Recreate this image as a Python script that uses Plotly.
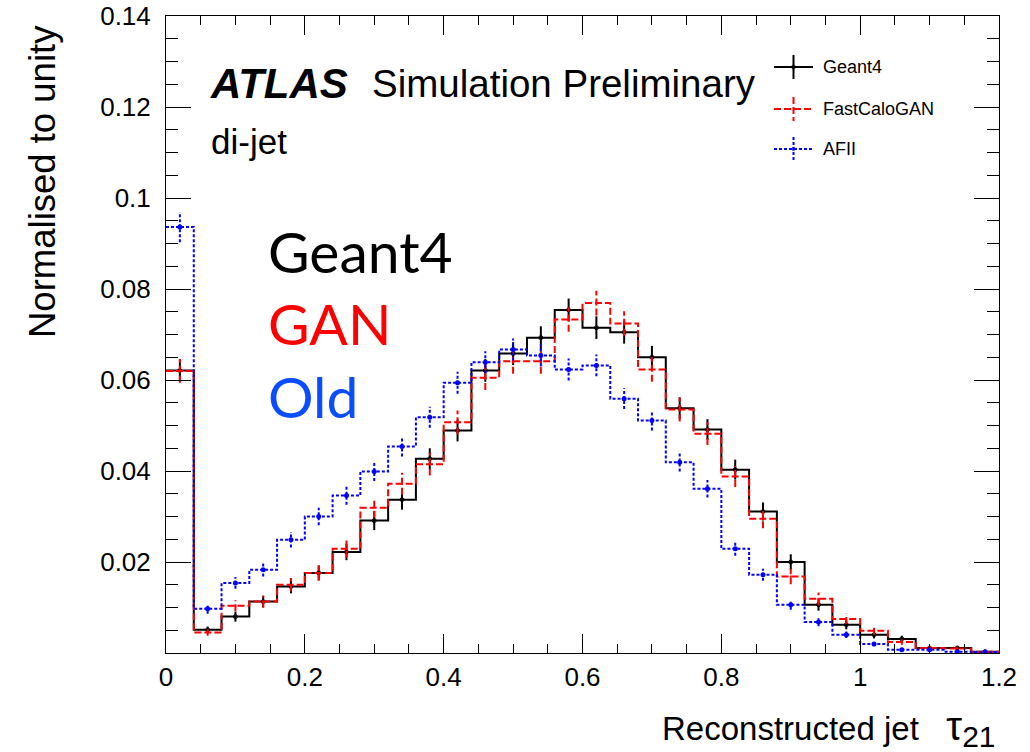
import plotly.graph_objects as go

# ---------------- data ----------------
BIN_EDGES = [round(0.04 * i, 2) for i in range(31)]
SERIES_NAMES = ["Geant4", "FastCaloGAN", "AFII"]

geant4 = [0.0621, 0.0051, 0.0080, 0.0113, 0.0146, 0.0176, 0.0222, 0.0291, 0.0337, 0.0427,
          0.0489, 0.0621, 0.0658, 0.0693, 0.0754, 0.0715, 0.0705, 0.0650, 0.0538, 0.0491,
          0.0403, 0.0311, 0.0200, 0.0106, 0.0062, 0.0040, 0.0031, 0.0011, 0.0011, 0.0003]
geant4_err = [0.0024, 0.0007, 0.0011, 0.0013, 0.0015, 0.0016, 0.0018, 0.0021, 0.0022, 0.0023,
              0.0024, 0.0025, 0.0025, 0.0025, 0.0025, 0.0025, 0.0025, 0.0025, 0.0024, 0.0023,
              0.0022, 0.0020, 0.0017, 0.0013, 0.0010, 0.0008, 0.0007, 0.0004, 0.0004, 0.0002]

fastcalogan = [0.0620, 0.0045, 0.0104, 0.0113, 0.0150, 0.0176, 0.0229, 0.0319, 0.0372, 0.0415,
               0.0507, 0.0605, 0.0641, 0.0641, 0.0733, 0.0769, 0.0724, 0.0623, 0.0535, 0.0482,
               0.0388, 0.0295, 0.0168, 0.0119, 0.0075, 0.0049, 0.0024, 0.0011, 0.0010, 0.0003]
fastcalogan_err = [0.0026, 0.0007, 0.0012, 0.0013, 0.0015, 0.0017, 0.0019, 0.0022, 0.0024, 0.0025,
                   0.0026, 0.0027, 0.0027, 0.0027, 0.0027, 0.0027, 0.0027, 0.0027, 0.0026, 0.0025,
                   0.0023, 0.0021, 0.0017, 0.0014, 0.0011, 0.0009, 0.0006, 0.0004, 0.0004, 0.0002]

afii = [0.0936, 0.0097, 0.0154, 0.0183, 0.0249, 0.0300, 0.0346, 0.0399, 0.0454, 0.0518,
        0.0594, 0.0639, 0.0667, 0.0654, 0.0623, 0.0632, 0.0559, 0.0511, 0.0419, 0.0361,
        0.0229, 0.0172, 0.0106, 0.0068, 0.0040, 0.0020, 0.0007, 0.0007, 0.0003, 0.0002]
afii_err = [0.0033, 0.0011, 0.0013, 0.0015, 0.0017, 0.0019, 0.0020, 0.0021, 0.0022, 0.0023,
            0.0024, 0.0024, 0.0024, 0.0024, 0.0024, 0.0024, 0.0023, 0.0022, 0.0020, 0.0019,
            0.0015, 0.0013, 0.0011, 0.0009, 0.0007, 0.0005, 0.0003, 0.0003, 0.0002, 0.0001]

X_TICKS = [0, 0.2, 0.4, 0.6, 0.8, 1.0, 1.2]
X_TICKTEXT = ["0", "0.2", "0.4", "0.6", "0.8", "1", "1.2"]
Y_TICKS = [0.02, 0.04, 0.06, 0.08, 0.10, 0.12, 0.14]
Y_TICKTEXT = ["0.02", "0.04", "0.06", "0.08", "0.1", "0.12", "0.14"]

# ---------------- styles ----------------
W, H = 1030, 752
L, R, T, B = 166, 31, 16, 99
PW, PH = W - L - R, H - T - B
ROOT_FONT = "Liberation Sans, Arial, Helvetica, sans-serif"

styles = [
    dict(color="black", dash="solid", marker=dict(symbol="circle-open", size=4, color="black", line=dict(width=1, color="black"))),
    dict(color="#ff0000", dash="7px,3px", marker=dict(symbol="circle", size=2, color="#ff0000")),
    dict(color="#0000ff", dash="3px,2px", marker=dict(symbol="circle", size=5, color="#0000ff")),
]
series = [(geant4, geant4_err), (fastcalogan, fastcalogan_err), (afii, afii_err)]

centers = [(BIN_EDGES[i] + BIN_EDGES[i + 1]) / 2 for i in range(len(BIN_EDGES) - 1)]

fig = go.Figure()
for name, (vals, errs), st in zip(SERIES_NAMES, series, styles):
    # step histogram
    fig.add_trace(go.Scatter(
        x=BIN_EDGES, y=list(vals) + [vals[-1]], mode="lines", line_shape="hv",
        line=dict(color=st["color"], width=2, dash=st["dash"]),
        showlegend=False, hoverinfo="skip"))
    # vertical error bars
    ex, ey = [], []
    for c, v, e in zip(centers, vals, errs):
        ex += [c, c, None]
        ey += [v - e, v + e, None]
    fig.add_trace(go.Scatter(x=ex, y=ey, mode="lines",
                             line=dict(color=st["color"], width=2, dash=st["dash"]),
                             showlegend=False, hoverinfo="skip"))
    # markers
    fig.add_trace(go.Scatter(x=centers, y=vals, mode="markers", marker=st["marker"],
                             name=name, showlegend=False))


def px(xp):
    return (xp - L) / PW


def py(yp):
    return (H - B - yp) / PH


shapes = []
annotations = []

# manual ROOT-style legend
leg_y = [67, 109, 149]
for name, st, yy in zip(SERIES_NAMES, styles, leg_y):
    shapes.append(dict(type="line", xref="paper", yref="paper", x0=px(774), x1=px(813),
                       y0=py(yy), y1=py(yy), line=dict(color=st["color"], width=2, dash=st["dash"])))
    shapes.append(dict(type="line", xref="paper", yref="paper", x0=px(793.5), x1=px(793.5),
                       y0=py(yy - 12), y1=py(yy + 12), line=dict(color=st["color"], width=2, dash=st["dash"])))
    annotations.append(dict(xref="paper", yref="paper", x=px(821), y=py(yy), xanchor="left", yanchor="middle",
                            text=name, showarrow=False, font=dict(family=ROOT_FONT, size=18, color="black")))
fig.add_trace(go.Scatter(x=[px(793.5)] * 3, y=[py(v) for v in leg_y], xaxis="x2", yaxis="y2",
                         mode="markers", marker=dict(color=[s["color"] for s in styles], size=[4, 2, 5],
                                                     symbol=["circle-open", "circle", "circle"]),
                         showlegend=False, hoverinfo="skip"))

# ATLAS label
annotations.append(dict(xref="paper", yref="paper", x=px(208), y=py(83), xanchor="left", yanchor="middle",
                        text="<b><i>ATLAS</i></b>", showarrow=False,
                        font=dict(family=ROOT_FONT, size=42, color="black")))
annotations.append(dict(xref="paper", yref="paper", x=px(370), y=py(83), xanchor="left", yanchor="middle",
                        text="Simulation Preliminary", showarrow=False,
                        font=dict(family=ROOT_FONT, size=38.5, color="black")))
annotations.append(dict(xref="paper", yref="paper", x=px(209), y=py(142), xanchor="left", yanchor="middle",
                        text="di-jet", showarrow=False,
                        font=dict(family=ROOT_FONT, size=35, color="black")))

# overlay labels
for txt, col, yc in [("Geant4", "black", 251), ("GAN", "#ff0000", 323), ("Old", "#0a4dff", 396)]:
    annotations.append(dict(xref="paper", yref="paper", x=px(266), y=py(yc), xanchor="left", yanchor="middle",
                            text=txt, showarrow=False,
                            font=dict(family="Lato, Carlito, sans-serif", size=57, color=col)))

# axis titles
annotations.append(dict(xref="paper", yref="paper", x=px(42), y=py(182), xanchor="center", yanchor="middle",
                        text="Normalised to unity", textangle=-90, showarrow=False,
                        font=dict(family=ROOT_FONT, size=36.5, color="black")))
annotations.append(dict(xref="paper", yref="paper", x=px(998), y=py(728), xanchor="right", yanchor="middle",
                        text=("Reconstructed jet\u00a0\u00a0\u00a0<span style='font-size:40px'>\u03c4</span>"
                              "<sub><span style='font-size:30px'>21</span></sub>"),
                        showarrow=False,
                        font=dict(family=ROOT_FONT, size=33, color="black")))

axis_common = dict(showgrid=False, zeroline=False, showline=True, linecolor="black", linewidth=1,
                   mirror="ticks", ticks="inside", tickcolor="black", tickwidth=1, automargin=False,
                   tickfont=dict(family=ROOT_FONT, size=26, color="black"))

fig.update_layout(
    width=W, height=H, margin=dict(l=L, r=R, t=T, b=B, autoexpand=False),
    paper_bgcolor="white", plot_bgcolor="white", showlegend=False,
    xaxis=dict(range=[0, 1.2], tickvals=X_TICKS, ticktext=X_TICKTEXT, ticklen=19,
               minor=dict(ticks="inside", dtick=0.05, ticklen=9, tickcolor="black", tickwidth=1),
               ticklabelstandoff=1, **axis_common),
    yaxis=dict(range=[0, 0.14], tickvals=Y_TICKS, ticktext=Y_TICKTEXT, ticklen=25,
               minor=dict(ticks="inside", dtick=0.005, ticklen=12, tickcolor="black", tickwidth=1),
               ticklabelstandoff=9, **axis_common),
    xaxis2=dict(range=[0, 1], overlaying="x", visible=False, fixedrange=True),
    yaxis2=dict(range=[0, 1], overlaying="y", visible=False, fixedrange=True),
    shapes=shapes, annotations=annotations,
)

fig.write_html("out.html")
